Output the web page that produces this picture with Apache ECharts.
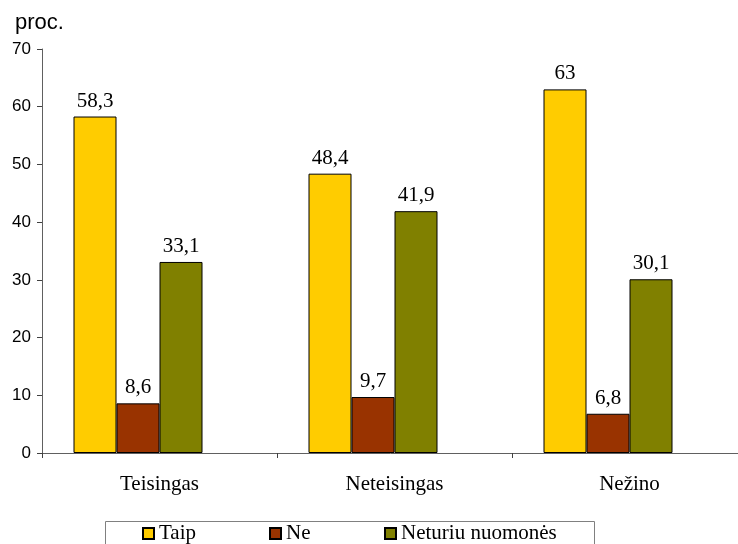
<!DOCTYPE html>
<html>
<head>
<meta charset="utf-8">
<script src="https://cdn.jsdelivr.net/npm/echarts@6/dist/echarts.min.js"></script>
<style>
  html, body { margin: 0; padding: 0; background: #ffffff; }
  #chart { width: 738px; height: 544px; }
</style>
</head>
<body>
<div id="chart"></div>
<script>
// Answers by group
var categories = ['Teisingas', 'Neteisingas', 'Nežino'];
var seriesNames = ['Taip', 'Ne', 'Neturiu nuomonės'];
var taipValues = [58.3, 48.4, 63];
var neValues = [8.6, 9.7, 6.8];
var neturiuValues = [33.1, 41.9, 30.1];
var yTicks = [0, 10, 20, 30, 40, 50, 60, 70];

var colors = ['#FFCC00', '#993300', '#808000'];
var serif = '"Liberation Serif", "Times New Roman", serif';
var sans = '"Liberation Sans", Arial, sans-serif';

function comma(v) { return String(v).replace('.', ','); }

function barSeries(name, data, color) {
  return {
    name: name,
    type: 'bar',
    data: data,
    barWidth: 43,
    barGap: '0%',
    itemStyle: { color: color, borderColor: '#000000', borderWidth: 1 },
    label: {
      show: true,
      position: 'top',
      distance: 5,
      color: '#000000',
      fontFamily: serif,
      fontSize: 21,
      formatter: function (p) { return comma(p.value); }
    }
  };
}

// one legend per entry so each can sit at its own spot inside the box
function legendItem(name, left) {
  return {
    data: [name],
    left: left,
    top: 523,
    padding: 0,
    itemWidth: 11,
    itemHeight: 11,
    icon: 'rect',
    selectedMode: false,
    textStyle: { fontFamily: serif, fontSize: 21, color: '#000000', lineHeight: 21 }
  };
}

var chart = echarts.init(document.getElementById('chart'), null, { renderer: 'canvas' });

chart.setOption({
  animation: false,
  backgroundColor: '#ffffff',
  // the plot runs a little past the right edge of the page
  grid: { left: 42, top: 49, width: 705, bottom: 91, containLabel: false, outerBoundsMode: 'none' },
  legend: [
    legendItem(seriesNames[0], 142),
    legendItem(seriesNames[1], 269),
    legendItem(seriesNames[2], 384)
  ],
  graphic: [
    {
      type: 'text',
      left: 15,
      top: 12,
      style: { text: 'proc.', fontFamily: sans, fontSize: 22, fill: '#000000' }
    },
    {
      type: 'rect',
      shape: { x: 105.5, y: 521.5, width: 489, height: 40 },
      style: { fill: 'none', stroke: '#808080', lineWidth: 1 },
      z: 0
    }
  ],
  xAxis: {
    type: 'category',
    data: categories,
    axisLine: { lineStyle: { color: '#606060', width: 1 } },
    axisTick: { show: true, alignWithLabel: false, length: 5, lineStyle: { color: '#404040' } },
    axisLabel: { margin: 21, color: '#000000', fontFamily: serif, fontSize: 21 }
  },
  yAxis: {
    type: 'value',
    min: yTicks[0],
    max: yTicks[yTicks.length - 1],
    interval: 10,
    splitLine: { show: false },
    axisLine: { show: true, lineStyle: { color: '#606060', width: 1 } },
    axisTick: { show: true, length: 5, lineStyle: { color: '#404040' } },
    axisLabel: { margin: 11, color: '#000000', fontFamily: sans, fontSize: 17 }
  },
  series: [
    barSeries(seriesNames[0], taipValues, colors[0]),
    barSeries(seriesNames[1], neValues, colors[1]),
    barSeries(seriesNames[2], neturiuValues, colors[2]),
    // empty fourth slot keeps the three bars left of each category centre
    {
      name: 'spacer',
      type: 'bar',
      data: [null, null, null],
      barWidth: 43,
      barGap: '0%',
      silent: true
    }
  ]
});
</script>
</body>
</html>
